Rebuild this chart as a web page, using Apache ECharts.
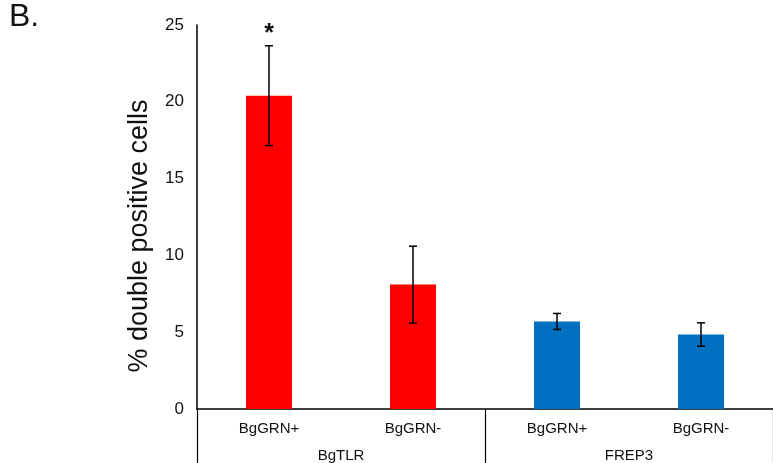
<!DOCTYPE html>
<html>
<head>
<meta charset="utf-8">
<script src="https://cdn.jsdelivr.net/npm/echarts@6/dist/echarts.min.js"></script>
<style>
  html, body { margin: 0; padding: 0; background: #fff; }
  #chart { width: 773px; height: 463px; }
</style>
</head>
<body>
<div id="chart"></div>
<script>
// data
var categories = ["BgGRN+", "BgGRN-", "BgGRN+", "BgGRN-"];
var groups = ["BgTLR", "FREP3"];
var values = [20.4, 8.1, 5.7, 4.85];
var errors = [3.25, 2.5, 0.52, 0.76];
var colors = ["#ff0000", "#ff0000", "#0070c0", "#0070c0"];
var marks = ["*", "", "", ""];
var yTicks = [0, 5, 10, 15, 20, 25];

var black = "#000";
var font = "Liberation Sans, Arial, sans-serif";

var chart = echarts.init(document.getElementById("chart"));

var option = {
  animation: false,
  graphic: [
    {
      type: "text",
      left: 9,
      top: 1,
      style: { text: "B.", fontSize: 32, fontFamily: font, fill: "#111" }
    }
  ],
  grid: { left: 197, right: -4, top: 25, bottom: 54 },
  xAxis: [
    {
      type: "category",
      data: categories,
      axisLine: { lineStyle: { color: black, width: 1.5 } },
      axisTick: { show: false },
      axisLabel: { color: "#111", fontSize: 15, fontFamily: font, margin: 12 }
    },
    {
      type: "category",
      data: groups,
      position: "bottom",
      axisLine: { show: false },
      axisTick: { show: true, length: 56, lineStyle: { color: black, width: 1.2 } },
      axisLabel: { color: "#111", fontSize: 15, fontFamily: font, margin: 39 }
    }
  ],
  yAxis: {
    type: "value",
    min: yTicks[0],
    max: yTicks[yTicks.length - 1],
    interval: 5,
    name: "% double positive cells",
    nameLocation: "middle",
    nameGap: 44,
    nameTextStyle: { color: "#111", fontSize: 27, fontFamily: font, padding: [0, 38, 0, 0] },
    axisLine: { show: true, lineStyle: { color: black, width: 1.5 } },
    axisTick: { show: false },
    splitLine: { show: false },
    axisLabel: { color: "#111", fontSize: 17, fontFamily: font, margin: 13 }
  },
  series: [
    {
      type: "bar",
      barWidth: 46,
      data: values.map(function (v, i) {
        return { value: v, itemStyle: { color: colors[i] } };
      })
    },
    {
      type: "custom",
      z: 10,
      data: values.map(function (v, i) {
        return [i, v, errors[i]];
      }),
      renderItem: function (params, api) {
        var i = api.value(0);
        var v = api.value(1);
        var e = api.value(2);
        var hi = api.coord([i, v + e]);
        var lo = api.coord([i, v - e]);
        var cap = 4;
        var style = { stroke: black, lineWidth: 1.5 };
        var children = [
          { type: "line", shape: { x1: hi[0], y1: hi[1], x2: lo[0], y2: lo[1] }, style: style },
          { type: "line", shape: { x1: hi[0] - cap, y1: hi[1], x2: hi[0] + cap, y2: hi[1] }, style: style },
          { type: "line", shape: { x1: lo[0] - cap, y1: lo[1], x2: lo[0] + cap, y2: lo[1] }, style: style }
        ];
        if (marks[params.dataIndex]) {
          children.push({
            type: "text",
            style: {
              text: marks[params.dataIndex],
              x: hi[0],
              y: hi[1] - 12,
              align: "center",
              verticalAlign: "middle",
              fontSize: 25,
              fontWeight: "bold",
              fontFamily: font,
              fill: "#111"
            }
          });
        }
        return { type: "group", children: children };
      }
    }
  ]
};

chart.setOption(option);
</script>
</body>
</html>
